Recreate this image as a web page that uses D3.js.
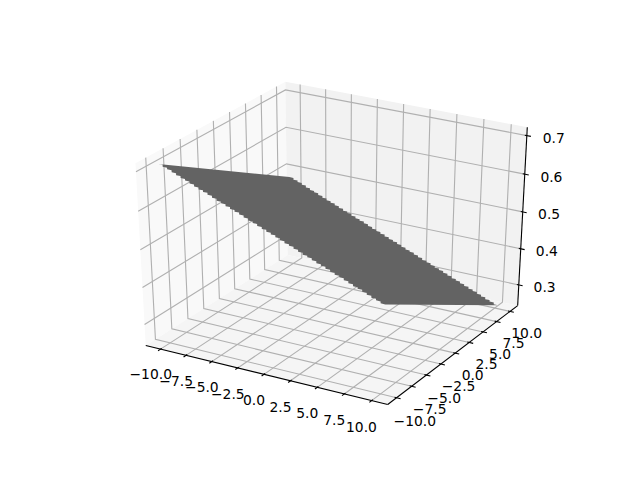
<!DOCTYPE html>
<html><head><meta charset="utf-8">
<script src="https://cdn.jsdelivr.net/npm/d3@7"></script>
<style>html,body{margin:0;padding:0;background:#fff}svg{display:block}text{font-family:"DejaVu Sans";font-size:13.89px;fill:#000}</style>
</head><body><svg id="c" width="640" height="480"></svg>
<script>
const xTicks=[-10,-7.5,-5,-2.5,0,2.5,5,7.5,10];
const yTicks=[-10,-7.5,-5,-2.5,0,2.5,5,7.5,10];
const zTicks=[0.3,0.4,0.5,0.6,0.7];
const xTickLabels=["\u221210.0","\u22127.5","\u22125.0","\u22122.5","0.0","2.5","5.0","7.5","10.0"];
const yTickLabels=xTickLabels;
const zTickLabels=["0.3","0.4","0.5","0.6","0.7"];
const xLim=[-11,11], yLim=[-11,11], zLim=[0.2516,0.7119];
const stripX=[-10.3,-9.89,-9.48,-9.06,-8.65,-8.24,-7.83,-7.42,-7.0,-6.59,-6.18,-5.77,-5.36,-4.94,-4.53,-4.12,-3.71,-3.3,-2.88,-2.47,-2.06,-1.65,-1.24,-0.82,-0.41,0,0.41,0.82,1.24,1.65,2.06,2.47,2.88,3.3,3.71,4.12,4.53,4.94,5.36,5.77,6.18,6.59,7.0,7.42,7.83,8.24,8.65,9.06,9.48,9.89,10.3];
const zAtYMin=[0.712,0.707,0.703,0.698,0.693,0.688,0.684,0.679,0.674,0.669,0.665,0.660,0.655,0.650,0.646,0.641,0.636,0.632,0.627,0.622,0.617,0.613,0.608,0.603,0.598,0.594,0.589,0.584,0.579,0.575,0.570,0.565,0.560,0.556,0.551,0.546,0.542,0.537,0.532,0.527,0.523,0.518,0.513,0.508,0.504,0.499,0.494,0.489,0.485,0.480];
const zAtYMax=[0.484,0.479,0.475,0.470,0.465,0.460,0.456,0.451,0.446,0.441,0.437,0.432,0.427,0.422,0.418,0.413,0.408,0.404,0.399,0.394,0.389,0.385,0.380,0.375,0.370,0.366,0.361,0.356,0.351,0.347,0.342,0.337,0.332,0.328,0.323,0.318,0.314,0.309,0.304,0.299,0.295,0.290,0.285,0.280,0.276,0.271,0.266,0.261,0.257,0.252];

const box=[1,1,1];
const sx=d3.scaleLinear().domain(xLim).range([0,box[0]]);
const sy=d3.scaleLinear().domain(yLim).range([0,box[1]]);
const sz=d3.scaleLinear().domain(zLim).range([0,box[2]]);
const el=30*Math.PI/180, az=-60*Math.PI/180, dist=10;
const R=box.map(b=>b/2);
const E=[R[0]+dist*Math.cos(el)*Math.cos(az),R[1]+dist*Math.cos(el)*Math.sin(az),R[2]+dist*Math.sin(el)];
const sub=(a,b)=>a.map((v,i)=>v-b[i]);
const dot=(a,b)=>a[0]*b[0]+a[1]*b[1]+a[2]*b[2];
const cross=(a,b)=>[a[1]*b[2]-a[2]*b[1],a[2]*b[0]-a[0]*b[2],a[0]*b[1]-a[1]*b[0]];
const norm=a=>{const n=Math.hypot(...a);return a.map(v=>v/n)};
const w=norm(sub(E,R));
const u=norm(cross([0,0,1],w));
const v=cross(w,u);
const px=d3.scaleLinear().domain([-0.095,0.09]).range([80,576]);
const py=d3.scaleLinear().domain([-0.095,0.09]).range([427.2,57.6]);
function P(x,y,z){
  const p=sub([sx(x),sy(y),sz(z)],E);
  const a=dot(u,p),b=dot(v,p),c=dot(w,p);
  return [px(a/(-c)),py(b/(-c))];
}
const pad=l=>{const d=(l[1]-l[0])/12;return [l[0]-d/4,l[1]+d/4]};
const X=pad(xLim),Y=pad(yLim),Z=pad(zLim);
const dX=(xLim[1]-xLim[0])/12,dY=(yLim[1]-yLim[0])/12,dZ=(zLim[1]-zLim[0])/12;
const svg=d3.select("#c");
const line=pts=>"M"+pts.map(p=>p.join(",")).join("L");
const poly=pts=>line(pts)+"Z";
function face(pts,c){svg.append("path").attr("d",poly(pts.map(p=>P(...p)))).attr("fill",c);}
face([[X[0],Y[0],Z[0]],[X[0],Y[1],Z[0]],[X[0],Y[1],Z[1]],[X[0],Y[0],Z[1]]],"#f9f9f9");
face([[X[0],Y[1],Z[0]],[X[1],Y[1],Z[0]],[X[1],Y[1],Z[1]],[X[0],Y[1],Z[1]]],"#f2f2f2");
face([[X[0],Y[0],Z[0]],[X[1],Y[0],Z[0]],[X[1],Y[1],Z[0]],[X[0],Y[1],Z[0]]],"#f5f5f5");
const grid=(pts)=>svg.append("path").attr("d",line(pts.map(p=>P(...p)))).attr("fill","none").attr("stroke","#b0b0b0").attr("stroke-width",1.11);
xTicks.forEach(t=>grid([[t,Y[0],Z[0]],[t,Y[1],Z[0]],[t,Y[1],Z[1]]]));
yTicks.forEach(t=>grid([[X[1],t,Z[0]],[X[0],t,Z[0]],[X[0],t,Z[1]]]));
zTicks.forEach(t=>grid([[X[0],Y[0],t],[X[0],Y[1],t],[X[1],Y[1],t]]));
const col="#636363";
const front=[],back=[];
zAtYMin.forEach((z0,i)=>{
  const x0=stripX[i],x1=stripX[i+1],z1=zAtYMax[i];
  front.push([x0,-10,z0],[x1,-10,z0]);
  back.push([x0,10,z1],[x1,10,z1]);
});
svg.append("path").attr("d",poly(front.concat(back.reverse()).map(p=>P(...p)))).attr("fill",col);
const ax=(a,b)=>svg.append("path").attr("d",line([P(...a),P(...b)])).attr("fill","none").attr("stroke","#000").attr("stroke-width",1.11);
ax([X[0],Y[0],Z[0]],[X[1],Y[0],Z[0]]);
ax([X[1],Y[0],Z[0]],[X[1],Y[1],Z[0]]);
ax([X[1],Y[1],Z[0]],[X[1],Y[1],Z[1]]);
const label=(p,s)=>{const q=P(...p);svg.append("text").attr("x",q[0]).attr("y",q[1]).attr("text-anchor","middle").attr("dominant-baseline","central").text(s);};
xTicks.forEach((t,i)=>{
  ax([t,Y[0]+0.1*dY,Z[0]],[t,Y[0]-0.2*dY,Z[0]]);
  label([t,Y[0]-0.88*dY,Z[0]-1.32*dZ],xTickLabels[i]);
});
yTicks.forEach((t,i)=>{
  ax([X[1]-0.1*dX,t,Z[0]],[X[1]+0.2*dX,t,Z[0]]);
  label([X[1]+0.92*dX,t,Z[0]-1.30*dZ],yTickLabels[i]);
});
zTicks.forEach((t,i)=>{
  ax([X[1]-0.1*dX,Y[1],t],[X[1]+0.2*dX,Y[1],t]);
  label([X[1]+0.86*dX,Y[1]+1.0*dY,t-0.4*dZ],zTickLabels[i]);
});
</script></body></html>
